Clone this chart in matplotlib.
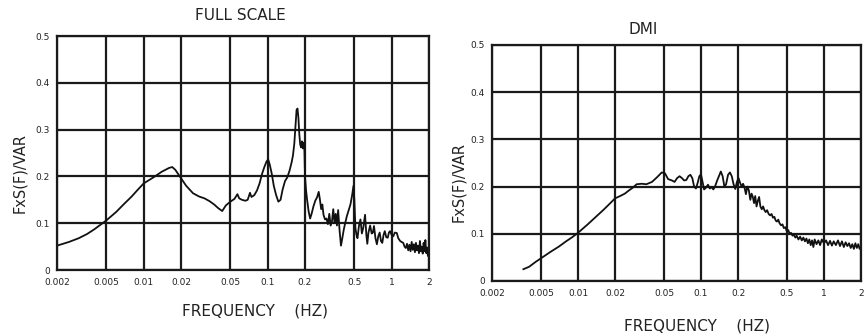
import matplotlib
matplotlib.use("Agg")
import matplotlib.pyplot as plt
from matplotlib.ticker import FixedLocator, FixedFormatter, NullLocator

# ---------------- data ----------------
tick_freqs = [0.002, 0.005, 0.01, 0.02, 0.05, 0.1, 0.2, 0.5, 1, 2]
tick_freq_labels = ["0.002", "0.005", "0.01", "0.02", "0.05", "0.1", "0.2", "0.5", "1", "2"]
tick_vals = [0, 0.1, 0.2, 0.3, 0.4, 0.5]
tick_val_labels = ["0", "0.1", "0.2", "0.3", "0.4", "0.5"]

fs_freq = [0.002, 0.0025, 0.003, 0.0035, 0.004, 0.0045, 0.005, 0.006, 0.007, 0.008,
           0.009, 0.010, 0.012, 0.014, 0.016, 0.017, 0.018, 0.020, 0.022, 0.025,
           0.028, 0.031, 0.034, 0.037, 0.040, 0.043, 0.046, 0.050, 0.054, 0.057,
           0.059, 0.062, 0.066, 0.069, 0.072, 0.074, 0.078, 0.082, 0.086, 0.090,
           0.094, 0.098, 0.101, 0.104, 0.108, 0.112, 0.117, 0.122, 0.127, 0.132,
           0.138, 0.144, 0.150, 0.156, 0.160, 0.164, 0.168, 0.171, 0.174, 0.177,
           0.180, 0.183, 0.186, 0.189, 0.192, 0.195, 0.198, 0.200, 0.204, 0.208,
           0.214, 0.220, 0.226, 0.234, 0.242, 0.250, 0.258, 0.264, 0.270, 0.276,
           0.282, 0.290, 0.298, 0.306, 0.314, 0.322, 0.330, 0.338, 0.346, 0.354,
           0.362, 0.370, 0.380, 0.390, 0.400, 0.410, 0.420, 0.435, 0.450, 0.465,
           0.480, 0.492, 0.500, 0.510, 0.520, 0.530, 0.545, 0.560, 0.575, 0.590,
           0.610, 0.625, 0.636, 0.650, 0.670, 0.690, 0.705, 0.720, 0.740, 0.760,
           0.780, 0.800, 0.820, 0.840, 0.860, 0.880, 0.905, 0.930, 0.950, 0.970,
           1.00, 1.03, 1.06, 1.10, 1.13, 1.17, 1.20, 1.24, 1.27, 1.30,
           1.33, 1.36, 1.39, 1.42, 1.45, 1.48, 1.51, 1.54, 1.57, 1.60,
           1.63, 1.66, 1.69, 1.72, 1.75, 1.78, 1.81, 1.84, 1.87, 1.90,
           1.93, 1.96, 2.00]
fs_val = [0.052, 0.060, 0.068, 0.077, 0.087, 0.097, 0.106, 0.124, 0.142, 0.157,
          0.172, 0.185, 0.198, 0.210, 0.218, 0.220, 0.214, 0.196, 0.180, 0.164,
          0.157, 0.153, 0.147, 0.140, 0.132, 0.126, 0.138, 0.146, 0.152, 0.162,
          0.153, 0.150, 0.148, 0.150, 0.165, 0.156, 0.160, 0.170, 0.185, 0.205,
          0.220, 0.232, 0.236, 0.225, 0.205, 0.180, 0.160, 0.146, 0.150, 0.172,
          0.190, 0.198, 0.212, 0.230, 0.245, 0.270, 0.310, 0.342, 0.345, 0.325,
          0.290, 0.268, 0.262, 0.275, 0.260, 0.272, 0.255, 0.200, 0.170, 0.150,
          0.125, 0.110, 0.120, 0.136, 0.148, 0.155, 0.167, 0.150, 0.130, 0.140,
          0.118, 0.108, 0.110, 0.098, 0.120, 0.095, 0.104, 0.130, 0.100, 0.120,
          0.095, 0.128, 0.085, 0.052, 0.068, 0.085, 0.098, 0.115, 0.128, 0.140,
          0.160, 0.180, 0.150, 0.090, 0.075, 0.068, 0.095, 0.108, 0.078, 0.090,
          0.118, 0.075, 0.056, 0.080, 0.095, 0.078, 0.080, 0.094, 0.068, 0.055,
          0.072, 0.080, 0.062, 0.058, 0.075, 0.083, 0.070, 0.069, 0.080, 0.083,
          0.075, 0.072, 0.080, 0.079, 0.068, 0.062, 0.060, 0.058, 0.050, 0.047,
          0.056, 0.042, 0.054, 0.040, 0.060, 0.043, 0.055, 0.038, 0.058, 0.042,
          0.052, 0.036, 0.062, 0.040, 0.050, 0.035, 0.058, 0.040, 0.064, 0.036,
          0.048, 0.030, 0.032]

dmi_freq = [0.0036, 0.004, 0.0045, 0.005, 0.006, 0.007, 0.008, 0.009, 0.010, 0.012,
            0.014, 0.016, 0.018, 0.020, 0.022, 0.024, 0.026, 0.028, 0.030, 0.033,
            0.036, 0.040, 0.044, 0.048, 0.051, 0.054, 0.058, 0.061, 0.064, 0.067,
            0.070, 0.073, 0.076, 0.079, 0.082, 0.085, 0.088, 0.091, 0.094, 0.097,
            0.100, 0.103, 0.106, 0.110, 0.114, 0.118, 0.122, 0.126, 0.130, 0.135,
            0.140, 0.145, 0.150, 0.155, 0.160, 0.166, 0.172, 0.178, 0.184, 0.190,
            0.196, 0.202, 0.208, 0.214, 0.220, 0.226, 0.232, 0.238, 0.245, 0.252,
            0.258, 0.264, 0.270, 0.276, 0.283, 0.290, 0.297, 0.304, 0.312, 0.320,
            0.328, 0.336, 0.345, 0.355, 0.365, 0.375, 0.385, 0.395, 0.405, 0.415,
            0.425, 0.436, 0.448, 0.460, 0.472, 0.485, 0.498, 0.512, 0.526, 0.540,
            0.555, 0.570, 0.585, 0.600, 0.62, 0.64, 0.66, 0.68, 0.70, 0.72,
            0.74, 0.76, 0.78, 0.80, 0.82, 0.84, 0.87, 0.90, 0.93, 0.96,
            1.00, 1.04, 1.08, 1.12, 1.16, 1.20, 1.25, 1.30, 1.35, 1.40,
            1.45, 1.50, 1.55, 1.60, 1.65, 1.70, 1.75, 1.80, 1.85, 1.90,
            1.95, 2.00]
dmi_val = [0.025, 0.030, 0.040, 0.048, 0.062, 0.073, 0.084, 0.093, 0.102, 0.120,
           0.136, 0.150, 0.163, 0.175, 0.180, 0.185, 0.192, 0.198, 0.205, 0.206,
           0.205, 0.210, 0.220, 0.230, 0.228, 0.216, 0.213, 0.210, 0.218, 0.222,
           0.218, 0.213, 0.214, 0.222, 0.225, 0.218, 0.200, 0.196, 0.208, 0.222,
           0.226, 0.210, 0.194, 0.198, 0.204, 0.196, 0.199, 0.194, 0.200, 0.212,
           0.222, 0.232, 0.222, 0.200, 0.205, 0.225, 0.230, 0.222, 0.205, 0.195,
           0.210, 0.218, 0.208, 0.200, 0.206, 0.198, 0.184, 0.200, 0.192, 0.172,
           0.185, 0.178, 0.165, 0.180, 0.158, 0.170, 0.178, 0.158, 0.152, 0.158,
           0.150, 0.146, 0.150, 0.142, 0.139, 0.142, 0.134, 0.136, 0.128, 0.126,
           0.130, 0.122, 0.118, 0.120, 0.112, 0.114, 0.106, 0.108, 0.100, 0.102,
           0.096, 0.098, 0.092, 0.096, 0.088, 0.094, 0.086, 0.092, 0.084, 0.090,
           0.080, 0.088, 0.076, 0.086, 0.072, 0.088, 0.078, 0.086, 0.076, 0.088,
           0.080, 0.086, 0.076, 0.085, 0.075, 0.084, 0.076, 0.086, 0.074, 0.084,
           0.072, 0.082, 0.074, 0.080, 0.070, 0.078, 0.068, 0.080, 0.070, 0.078,
           0.068, 0.074]

# ---------------- figure ----------------
fig = plt.figure(figsize=(8.67, 3.36), dpi=100)
W, H = 867.0, 336.0

def make_ax(l, r, t, b):
    return fig.add_axes([l / W, 1 - b / H, (r - l) / W, (b - t) / H])

ax1 = make_ax(57, 429, 36, 270)
ax2 = make_ax(492, 861, 45, 281)

for ax in (ax1, ax2):
    ax.set_xscale("log")
    ax.set_xlim(0.002, 2)
    ax.set_ylim(0, 0.5)
    ax.xaxis.set_major_locator(FixedLocator(tick_freqs))
    ax.xaxis.set_major_formatter(FixedFormatter(tick_freq_labels))
    ax.xaxis.set_minor_locator(NullLocator())
    ax.yaxis.set_major_locator(FixedLocator(tick_vals))
    ax.yaxis.set_major_formatter(FixedFormatter(tick_val_labels))
    ax.tick_params(length=0, labelsize=6.5, colors="#222222")
    ax.tick_params(axis="x", pad=6)
    ax.tick_params(axis="y", pad=5)
    ax.grid(True, color="#1a1a1a", linewidth=1.6)
    for s in ax.spines.values():
        s.set_linewidth(1.6)
        s.set_color("#1a1a1a")
    ax.set_axisbelow(True)

ax1.plot(fs_freq, fs_val, color="#111111", linewidth=1.3)
ax2.plot(dmi_freq, dmi_val, color="#111111", linewidth=1.3)

fig.text(240 / W, 1 - 16 / H, "FULL SCALE", ha="center", va="center", fontsize=11, color="#222222")
fig.text(643 / W, 1 - 30 / H, "DMI", ha="center", va="center", fontsize=11, color="#222222")
fig.text(20 / W, 1 - 173 / H, "FxS(F)/VAR", ha="center", va="center", rotation=90, fontsize=10.5, color="#222222")
fig.text(459 / W, 1 - 182 / H, "FxS(F)/VAR", ha="center", va="center", rotation=90, fontsize=10.5, color="#222222")
fig.text(255 / W, 1 - 311 / H, "FREQUENCY    (HZ)", ha="center", va="center", fontsize=11, color="#222222")
fig.text(697 / W, 1 - 326 / H, "FREQUENCY    (HZ)", ha="center", va="center", fontsize=11, color="#222222")

fig.savefig("out.png", dpi=100)
